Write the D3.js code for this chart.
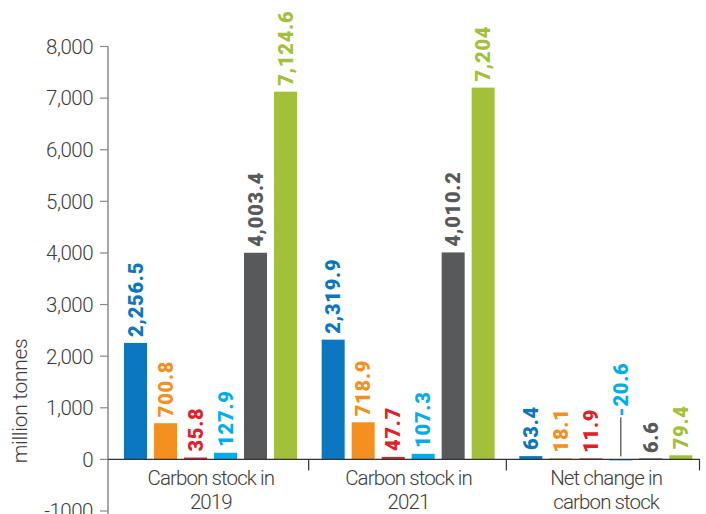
<!DOCTYPE html>
<html><head><meta charset="utf-8">
<script src="https://cdn.jsdelivr.net/npm/d3@7"></script>
<style>body{margin:0;background:#fff;} svg{display:block;}</style>
</head><body>
<svg id="chart" width="706" height="514"></svg>
<script>
const categories = [["Carbon stock in","2019"],["Carbon stock in","2021"],["Net change in","carbon stock"]];
const seriesNames = ["s1","s2","s3","s4","s5","s6"];
const seriesColors = ["#0a77c0","#f58f20","#e2202a","#00aeef","#58595b","#a3c03a"];
const values2019 = [2256.5, 700.8, 35.8, 127.9, 4003.4, 7124.6];
const values2021 = [2319.9, 718.9, 47.7, 107.3, 4010.2, 7204];
const valuesNet = [63.4, 18.1, 11.9, -20.6, 6.6, 79.4];
const valueLabels2019 = ["2,256.5","700.8","35.8","127.9","4,003.4","7,124.6"];
const valueLabels2021 = ["2,319.9","718.9","47.7","107.3","4,010.2","7,204"];
const valueLabelsNet = ["63.4","18.1","11.9","-20.6","6.6","79.4"];
const yTicks = [-1000,0,1000,2000,3000,4000,5000,6000,7000,8000];
const yTickLabels = ["-1000","0","1,000","2,000","3,000","4,000","5,000","6,000","7,000","8,000"];
const yTitle = "million tonnes";

const allValues = [values2019, values2021, valuesNet];
const allLabels = [valueLabels2019, valueLabels2021, valueLabelsNet];

const svg = d3.select("#chart");
const y = d3.scaleLinear().domain([-1000, 8000]).range([511, 46.5]);
const x0 = d3.scaleBand().domain(d3.range(categories.length)).range([111, 704]).padding(0);
const x1 = d3.scaleBand().domain(seriesNames).range([13, 13 + 5*30 + 23]).paddingInner(7/30).paddingOuter(0);

const textColor = "#3b3b3b";
const tickFont = "Roboto, 'Noto Sans', sans-serif";

// Y axis
const yAxis = svg.append("g");
yAxis.append("line").attr("x1",108).attr("x2",108).attr("y1",y(8000)).attr("y2",520)
  .attr("stroke","#8a8a8a").attr("stroke-width",1.5);
yTicks.forEach((t,i)=>{
  yAxis.append("line").attr("x1",100).attr("x2",108).attr("y1",y(t)).attr("y2",y(t))
    .attr("stroke","#8a8a8a").attr("stroke-width",1.2);
  yAxis.append("text").attr("x",93).attr("y",y(t)).attr("dy","0.36em")
    .attr("text-anchor","end").attr("font-family",tickFont).attr("font-size",20.5)
    .attr("font-weight",300).attr("letter-spacing","-0.5").attr("fill",textColor).text(yTickLabels[i]);
});
svg.append("text").attr("transform",`translate(27,${401}) rotate(-90)`)
  .attr("text-anchor","middle").attr("font-family",tickFont).attr("font-size",21)
  .attr("font-weight",300).attr("letter-spacing","-0.3").attr("fill",textColor).text(yTitle);

// Bars
categories.forEach((cat, ci)=>{
  const g = svg.append("g").attr("transform",`translate(${x0(ci)},0)`);
  allValues[ci].forEach((v, si)=>{
    const bx = x1(seriesNames[si]);
    const h = Math.max(Math.abs(y(v)-y(0)), 1);
    g.append("rect").attr("x",bx).attr("y", v>=0 ? y(0)-h : y(0)).attr("width",x1.bandwidth())
      .attr("height",h).attr("fill",seriesColors[si]);
    const cx = bx + x1.bandwidth()/2;
    let ly;
    if (v >= 0) {
      ly = y(v) - 6;
    } else {
      ly = y(0) - 42;
      g.append("line").attr("x1",cx).attr("x2",cx).attr("y1",ly).attr("y2",y(0)-3)
        .attr("stroke","#222").attr("stroke-width",1);
      ly -= 1;
    }
    g.append("text").attr("transform",`translate(${cx},${ly}) rotate(-90)`)
      .attr("dy","0.36em").attr("text-anchor","start")
      .attr("font-family","Roboto, 'DejaVu Sans', sans-serif").attr("font-weight",900)
      .attr("font-size",20).attr("letter-spacing","0.8").attr("fill",seriesColors[si]).text(allLabels[ci][si]);
  });
});

// X axis
svg.append("line").attr("x1",108).attr("x2",700).attr("y1",y(0)).attr("y2",y(0))
  .attr("stroke","#333").attr("stroke-width",1.2);
const boundaries = [x0(1), x0(2), 699.5];
boundaries.forEach(b=>{
  svg.append("line").attr("x1",b).attr("x2",b).attr("y1",y(0)).attr("y2",y(0)+11)
    .attr("stroke","#333").attr("stroke-width",1.2);
});
categories.forEach((cat, ci)=>{
  const cx = x0(ci) + x0.bandwidth()/2 + 1;
  cat.forEach((line, li)=>{
    svg.append("text").attr("x",cx).attr("y",485 + li*24).attr("text-anchor","middle")
      .attr("font-family",tickFont).attr("font-size",20.5).attr("font-weight",300)
      .attr("letter-spacing","-0.9").attr("fill",textColor).text(line);
  });
});
</script>
</body></html>
